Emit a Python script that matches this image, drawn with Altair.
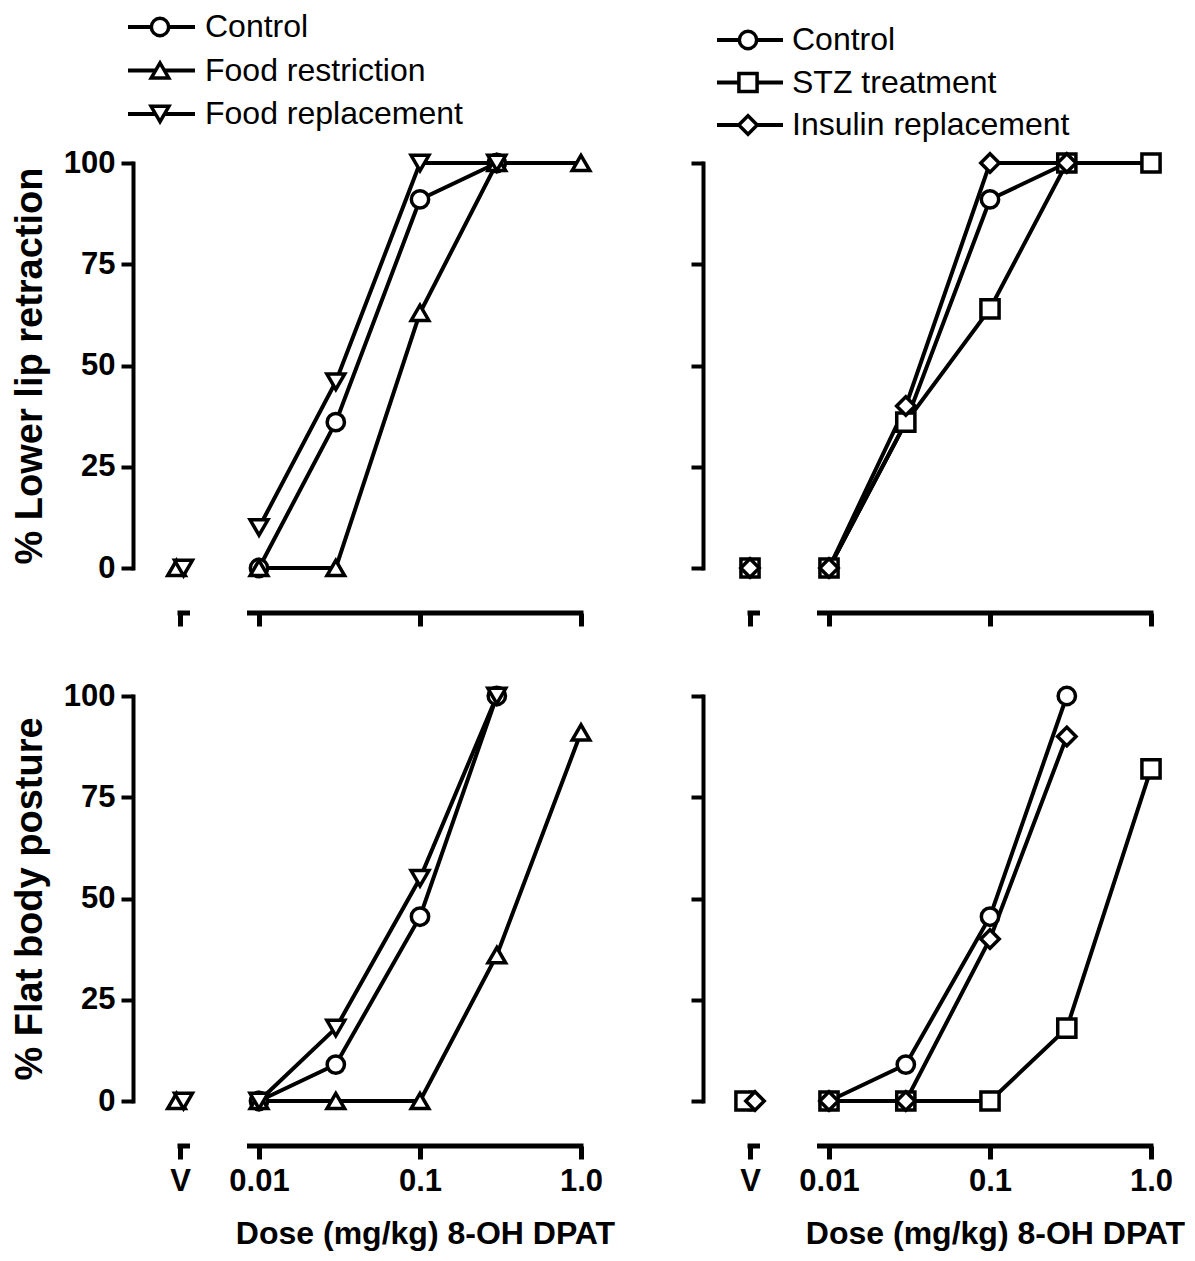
import altair as alt
import pandas as pd

# ---------------- data ----------------
DOSE_LABELS = ["V", "0.01", "0.03", "0.1", "0.3", "1.0"]
DOSES = [None, 0.01, 0.03, 0.1, 0.3, 1.0]          # V = vehicle (no drug)
X_TICK_LABELS = ["V", "0.01", "0.1", "1.0"]
X_TICK_DOSES = [None, 0.01, 0.1, 1.0]
Y_TICKS = [0, 25, 50, 75, 100]

SERIES_FOOD = ["Control", "Food restriction", "Food replacement"]
SERIES_STZ = ["Control", "STZ treatment", "Insulin replacement"]
ALL_SERIES = ["Control", "Food restriction", "Food replacement", "STZ treatment", "Insulin replacement"]

Y_TITLES = ["% Lower lip retraction", "% Flat body posture"]
X_TITLE = "Dose (mg/kg) 8-OH DPAT"

# % Lower lip retraction
lip_control_food = [None, 0, 36, 91, 100, None]
lip_food_restriction = [0, 0, 0, 63, 100, 100]
lip_food_replacement = [0, 10, 46, 100, 100, None]
lip_control_stz = [0, 0, 36, 91, 100, None]
lip_stz = [0, 0, 36, 64, 100, 100]
lip_insulin = [0, 0, 40, 100, 100, None]

# % Flat body posture
flat_control_food = [None, 0, 9, 45.5, 100, None]
flat_food_restriction = [0, 0, 0, 0, 36, 91]
flat_food_replacement = [0, 0, 18, 55, 100, None]
flat_control_stz = [0, 0, 9, 45.5, 100, None]
flat_stz = [0, 0, 0, 0, 18, 82]
flat_insulin = [0, 0, 0, 40, 90, None]

# ---------------- layout / style ----------------
FONT = "Liberation Sans"
PX_DEC = 161.0                       # pixels per decade
X_MIN_LOG, X_MAX_LOG = -2.7826, 0.1056
W = round((X_MAX_LOG - X_MIN_LOG) * PX_DEC)
H = 405
V_POS = 10 ** (-2 - 79 / PX_DEC)     # where the vehicle sits on the broken axis
AX_OFFSET = 45

SHAPES = ["circle", "triangle-up", "triangle-down", "square", "diamond"]
SIZES = [300, 340, 340, 270, 440]


def shift(x, px):
    return x * 10 ** (px / PX_DEC)


def make_df(names, values):
    rows = []
    for name, vals in zip(names, values):
        for lab, d, v in zip(DOSE_LABELS, DOSES, vals):
            if v is None:
                continue
            rows.append({"series": name, "dose_label": lab,
                         "dose": V_POS if d is None else d, "value": v})
    return pd.DataFrame(rows)


tick_vals = [V_POS if d is None else d for d in X_TICK_DOSES]
label_expr = "''"
for tv, tl in sorted(zip(tick_vals, X_TICK_LABELS), reverse=True):
    label_expr = f"(abs(datum.value - {tv}) < {tv * 0.01}) ? '{tl}' : " + label_expr

shape_enc = alt.Shape("series:N", scale=alt.Scale(domain=ALL_SERIES, range=SHAPES), legend=None)
size_enc = alt.Size("series:N", scale=alt.Scale(domain=ALL_SERIES, range=SIZES), legend=None)


def panel(row, names, values, show_x_labels, show_y_labels, vdx, legend_cfg=None):
    df = make_df(names, values)
    xscale = alt.Scale(type="log", domain=[10 ** X_MIN_LOG, 10 ** X_MAX_LOG], nice=False)
    yscale = alt.Scale(domain=[0, 100], nice=False, zero=False)
    xaxis = alt.Axis(values=tick_vals, offset=AX_OFFSET, domain=False, grid=False,
                     tickSize=13, tickWidth=5, tickColor="black",
                     labels=show_x_labels, labelExpr=label_expr, labelFont=FONT,
                     labelFontSize=31, labelFontWeight="bold", labelColor="black",
                     labelPadding=7, labelFlush=False, labelOverlap=False,
                     title=X_TITLE if show_x_labels else None,
                     titleFont=FONT, titleFontSize=32, titleFontWeight="bold",
                     titleColor="black", titleX=292, titlePadding=22)
    yaxis = alt.Axis(values=Y_TICKS, domainWidth=4, domainColor="black", domainCap="square",
                     grid=False, tickSize=12, tickWidth=4, tickColor="black",
                     labels=show_y_labels, labelFont=FONT, labelFontSize=31,
                     labelFontWeight="bold", labelColor="black", labelPadding=6,
                     title=Y_TITLES[row] if show_y_labels else None,
                     titleFont=FONT, titleFontSize=38, titleFontWeight="bold",
                     titleColor="black", titlePadding=14)
    y_enc = alt.Y("value:Q", scale=yscale, axis=yaxis)

    base = alt.Chart(df)
    lines = base.mark_line(color="black", strokeWidth=4).encode(
        x=alt.X("dose:Q", scale=xscale, axis=xaxis), y=y_enc,
        detail="series:N", order="dose:Q"
    ).transform_filter("datum.dose_label != 'V'")

    pts = base.mark_point(filled=True, fill="white", stroke="black", strokeWidth=3.5, opacity=1).encode(
        x=alt.X("dose:Q", scale=xscale, axis=xaxis), y=y_enc, shape=shape_enc, size=size_enc
    ).transform_filter("datum.dose_label != 'V'")

    dx_expr = "0"
    for name, px in vdx.items():
        dx_expr = f"datum.series == '{name}' ? {px} : " + dx_expr
    vpts = base.mark_point(filled=True, fill="white", stroke="black", strokeWidth=3.5, opacity=1).encode(
        x=alt.X("vx:Q", scale=xscale, axis=xaxis), y=y_enc, shape=shape_enc, size=size_enc
    ).transform_filter("datum.dose_label == 'V'").transform_calculate(
        vx=f"datum.dose * pow(10, ({dx_expr}) / {PX_DEC})")

    # broken x-axis line
    seg = pd.DataFrame({"x1": [shift(V_POS, -2.5), shift(0.01, -12)],
                        "x2": [shift(V_POS, 10), shift(1.0, 2.5)]})
    axis_line = alt.Chart(seg).mark_rule(color="black", strokeWidth=5).encode(
        x=alt.X("x1:Q", scale=xscale, axis=xaxis), x2="x2:Q", y=alt.value(H + AX_OFFSET))

    inner = alt.layer(axis_line, lines, pts, vpts)

    if legend_cfg is None:
        return inner.properties(width=W, height=H)

    lx1, lx2, mx, tx, yr = legend_cfg
    ldf = pd.DataFrame({"series": names, "rank": list(range(len(names)))})
    ly = alt.Y("rank:Q", scale=alt.Scale(domain=[0, len(names) - 1], range=yr, nice=False, zero=False), axis=None)
    lbase = alt.Chart(ldf)
    lrule = lbase.mark_rule(color="black", strokeWidth=4).encode(
        y=ly, x=alt.value(lx1), x2=alt.value(lx2))
    lpt = lbase.mark_point(filled=True, fill="white", stroke="black", strokeWidth=3.5, opacity=1).encode(
        y=ly, x=alt.value(mx), shape=shape_enc, size=size_enc)
    ltxt = lbase.mark_text(align="left", baseline="middle", font=FONT, fontSize=32, color="black").encode(
        y=ly, x=alt.value(tx), text="series:N")
    legend = alt.layer(lrule, lpt, ltxt)
    return alt.layer(inner, legend).resolve_scale(y="independent").properties(width=W, height=H)


TL = panel(0, SERIES_FOOD, [lip_control_food, lip_food_restriction, lip_food_replacement],
           False, True, {"Food restriction": -3.5, "Food replacement": 3.5},
           (-5, 62, 27, 72, [-136, -49]))
TR = panel(0, SERIES_STZ, [lip_control_stz, lip_stz, lip_insulin],
           False, False, {},
           (14, 80, 45, 89, [-123, -38]))
BL = panel(1, SERIES_FOOD, [flat_control_food, flat_food_restriction, flat_food_replacement],
           True, True, {"Food restriction": -3.5, "Food replacement": 3.5})
BR = panel(1, SERIES_STZ, [flat_control_stz, flat_stz, flat_insulin],
           True, False, {"STZ treatment": -5, "Insulin replacement": 5})

chart = alt.concat(TL, TR, BL, BR, columns=2, spacing={"row": 128, "column": 105},
                   bounds="flush").properties(
    padding={"left": 3, "top": 3, "right": 0, "bottom": 4}
).configure(background="white", font=FONT).configure_view(strokeWidth=0, stroke=None)

chart.save("out.html", embed_options={"renderer": "svg", "actions": False})
